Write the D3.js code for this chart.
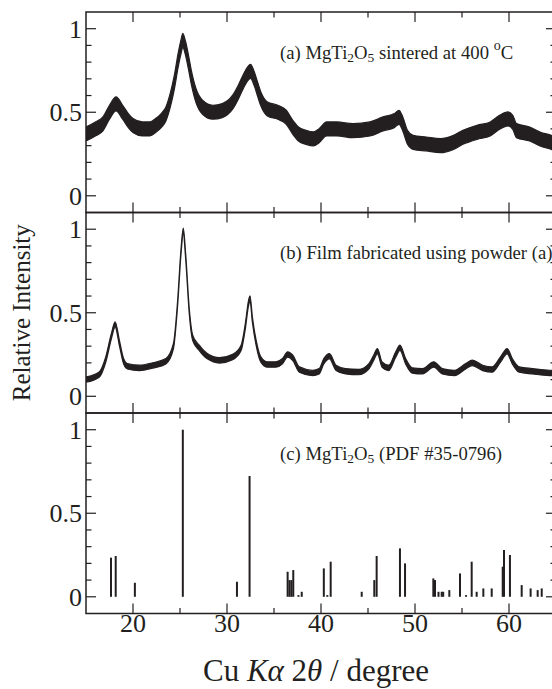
<!DOCTYPE html>
<html>
<head>
<meta charset="utf-8">
<script src="https://cdn.jsdelivr.net/npm/d3@7"></script>
<style>
  body { margin: 0; background: #fff; }
  svg { display: block; font-family: "Liberation Serif", "Times New Roman", serif; }
</style>
</head>
<body>
<svg id="chart" width="552" height="689"></svg>
<script>
// x range of all three panels (2 theta, degree)
const xDomain = [15, 65];
const yDomain = [-0.1, 1.1];
const xMajorTicks = [20, 30, 40, 50, 60];
const xMinorTicks = [25, 35, 45, 55];
const yMajorTicks = [0, 0.5, 1];
const yMinorTicks = [0.1, 0.2, 0.3, 0.4, 0.6, 0.7, 0.8, 0.9];
const yTickLabels = ['0', '0.5', '1'];

// (a) powder sintered at 400 C (centre of the noisy trace)
const sinteredTheta = [15.0, 16.0, 16.8, 17.5, 18.2, 18.9, 19.5, 20.0, 21.0, 21.8, 22.4, 23.0, 23.5, 24.0, 24.4, 24.8, 25.1, 25.3, 25.6, 25.9, 26.2, 26.7, 27.4, 28.5, 29.5, 30.6, 31.2, 31.7, 32.2, 32.5, 32.9, 33.3, 33.6, 34.3, 35.4, 36.3, 37.0, 37.6, 38.4, 39.2, 39.8, 40.6, 41.7, 43.4, 45.2, 46.6, 47.8, 48.3, 48.7, 49.2, 49.8, 51.2, 52.7, 54.1, 55.1, 56.6, 58.0, 59.0, 59.9, 60.4, 60.8, 62.2, 63.3, 64.5, 65.0];
const sinteredInt = [0.37, 0.40, 0.43, 0.50, 0.55, 0.50, 0.45, 0.42, 0.40, 0.40, 0.42, 0.45, 0.49, 0.58, 0.68, 0.81, 0.89, 0.93, 0.88, 0.80, 0.71, 0.60, 0.53, 0.50, 0.51, 0.56, 0.62, 0.68, 0.73, 0.745, 0.70, 0.63, 0.58, 0.52, 0.50, 0.47, 0.41, 0.37, 0.35, 0.34, 0.36, 0.40, 0.40, 0.39, 0.40, 0.43, 0.45, 0.47, 0.43, 0.35, 0.32, 0.31, 0.30, 0.32, 0.35, 0.38, 0.40, 0.44, 0.46, 0.44, 0.39, 0.37, 0.34, 0.32, 0.31];

// (b) film made from that powder
const filmTheta = [15.0, 16.4, 17.1, 17.7, 18.1, 18.55, 19.0, 19.4, 20.7, 22.1, 23.5, 24.3, 24.75, 25.1, 25.35, 25.6, 26.0, 26.35, 27.05, 27.9, 29.2, 30.6, 31.5, 31.95, 32.3, 32.45, 32.7, 33.1, 33.6, 34.3, 35.2, 35.9, 36.45, 37.0, 37.7, 39.1, 39.8, 40.3, 40.9, 41.6, 42.6, 44.0, 45.1, 45.6, 46.0, 46.5, 47.2, 47.95, 48.4, 49.0, 49.7, 50.8, 52.0, 52.9, 54.2, 55.4, 56.1, 57.2, 58.2, 59.1, 59.8, 60.35, 61.1, 62.5, 64.3, 65.0];
const filmInt = [0.10, 0.13, 0.22, 0.36, 0.43, 0.32, 0.21, 0.18, 0.17, 0.185, 0.21, 0.30, 0.56, 0.86, 0.99, 0.84, 0.50, 0.35, 0.29, 0.24, 0.215, 0.235, 0.29, 0.42, 0.56, 0.585, 0.46, 0.32, 0.22, 0.19, 0.19, 0.21, 0.25, 0.23, 0.16, 0.14, 0.15, 0.21, 0.24, 0.17, 0.15, 0.145, 0.18, 0.23, 0.27, 0.19, 0.17, 0.25, 0.29, 0.21, 0.155, 0.15, 0.19, 0.15, 0.14, 0.18, 0.20, 0.17, 0.16, 0.22, 0.27, 0.21, 0.16, 0.15, 0.14, 0.14];

// (c) MgTi2O5 reference pattern, PDF #35-0796
const refTheta = [17.66, 18.16, 20.2, 25.3, 31.06, 32.4, 36.45, 36.65, 36.85, 37.05, 37.6, 37.95, 40.3, 40.67, 41.03, 44.33, 45.67, 45.92, 48.4, 48.94, 51.95, 52.13, 52.5, 52.84, 53.0, 53.65, 54.79, 55.43, 56.03, 56.56, 57.27, 58.16, 59.33, 59.47, 60.1, 61.35, 62.3, 63.05, 63.48];
const refInt = [0.234, 0.244, 0.084, 1.0, 0.09, 0.723, 0.15, 0.10, 0.10, 0.16, 0.01, 0.03, 0.17, 0.01, 0.21, 0.03, 0.10, 0.244, 0.29, 0.20, 0.11, 0.10, 0.03, 0.03, 0.03, 0.04, 0.14, 0.01, 0.21, 0.03, 0.05, 0.05, 0.18, 0.28, 0.25, 0.07, 0.05, 0.04, 0.05];

const ink = '#231f20';
const plotLeft = 86, plotRight = 556, plotTop = 12, panelH = 200.5;
const svg = d3.select('#chart');

const x = d3.scaleLinear().domain(xDomain).range([plotLeft, plotRight]);

svg.append('clipPath').attr('id', 'plotClip')
  .append('rect').attr('x', plotLeft).attr('y', plotTop).attr('width', plotRight - plotLeft).attr('height', panelH * 3);

const panels = [
  { kind: 'trace', theta: sinteredTheta, val: sinteredInt, noise: 0.042,
    text: [['(a) MgTi'], ['2', 'sub'], ['O'], ['5', 'sub'], [' sintered at 400  '], ['o', 'sup'], ['C']], textY: 59 },
  { kind: 'trace', theta: filmTheta, val: filmInt, noise: 0.016,
    text: [['(b) Film fabricated using powder (a)']], textY: 259 },
  { kind: 'sticks', theta: refTheta, val: refInt,
    text: [['(c) MgTi'], ['2', 'sub'], ['O'], ['5', 'sub'], [' (PDF #35-0796)']], textY: 460 }
];

panels.forEach((p, i) => {
  const y0 = plotTop + panelH * i;
  const y = d3.scaleLinear().domain(yDomain).range([y0 + panelH, y0]);
  const g = svg.append('g');

  // data
  const pts = p.theta.map((t, k) => [t, p.val[k]]);
  if (p.kind === 'trace') {
    const area = d3.area()
      .x(d => x(d[0]))
      .y0(d => y(d[1] - p.noise))
      .y1(d => y(d[1] + p.noise))
      .curve(d3.curveMonotoneX);
    g.append('path')
      .datum(pts)
      .attr('clip-path', 'url(#plotClip)')
      .attr('fill', ink)
      .attr('stroke', ink)
      .attr('stroke-width', 1.2)
      .attr('stroke-linejoin', 'round')
      .attr('d', area);
  } else {
    g.selectAll('.stick')
      .data(pts)
      .enter().append('line')
      .attr('class', 'stick')
      .attr('x1', d => x(d[0]))
      .attr('x2', d => x(d[0]))
      .attr('y1', y(0))
      .attr('y2', d => y(d[1]))
      .attr('stroke', ink)
      .attr('stroke-width', 2);
  }

  // frame
  g.append('rect')
    .attr('x', plotLeft).attr('y', y0)
    .attr('width', plotRight - plotLeft).attr('height', panelH)
    .attr('fill', 'none').attr('stroke', ink).attr('stroke-width', 1.5);

  // y ticks, inward on both sides
  const yTicks = yMajorTicks.map(v => [v, 10]).concat(yMinorTicks.map(v => [v, 5.5]));
  g.selectAll('.ytl').data(yTicks).enter().append('line')
    .attr('x1', plotLeft).attr('x2', d => plotLeft + d[1])
    .attr('y1', d => y(d[0])).attr('y2', d => y(d[0]))
    .attr('stroke', ink).attr('stroke-width', 1.2);
  g.selectAll('.ytr').data(yTicks).enter().append('line')
    .attr('x1', plotRight).attr('x2', d => plotRight - d[1])
    .attr('y1', d => y(d[0])).attr('y2', d => y(d[0]))
    .attr('stroke', ink).attr('stroke-width', 1.2);

  g.selectAll('.ylab').data(yMajorTicks).enter().append('text')
    .attr('x', plotLeft - 4)
    .attr('y', d => y(d))
    .attr('dy', '0.34em')
    .attr('text-anchor', 'end')
    .attr('font-size', 26)
    .attr('fill', ink)
    .text((d, k) => yTickLabels[k]);

  // x ticks, inward at top and bottom of every panel
  const xTicks = xMajorTicks.map(v => [v, 10]).concat(xMinorTicks.map(v => [v, 5.5]));
  [[y0, 1], [y0 + panelH, -1]].forEach(([yy, dir]) => {
    g.selectAll(null).data(xTicks).enter().append('line')
      .attr('x1', d => x(d[0])).attr('x2', d => x(d[0]))
      .attr('y1', yy).attr('y2', d => yy + dir * d[1])
      .attr('stroke', ink).attr('stroke-width', 1.2);
  });

  // panel caption
  const t = g.append('text')
    .attr('x', 280).attr('y', p.textY)
    .attr('font-size', 18.7)
    .attr('fill', ink);
  p.text.forEach(([s, mode]) => {
    const span = t.append('tspan').text(s);
    if (mode === 'sub') span.attr('font-size', 13.5).attr('baseline-shift', '-22%');
    if (mode === 'sup') span.attr('font-size', 14).attr('baseline-shift', '65%');
  });
});

// bottom axis labels
svg.selectAll('.xlab').data(xMajorTicks).enter().append('text')
  .attr('x', d => x(d))
  .attr('y', 632)
  .attr('text-anchor', 'middle')
  .attr('font-size', 26)
  .attr('fill', ink)
  .text(d => d);

const xt = svg.append('text')
  .attr('x', 316)
  .attr('y', 681)
  .attr('text-anchor', 'middle')
  .attr('font-size', 31)
  .attr('fill', ink);
xt.append('tspan').text('Cu ');
xt.append('tspan').attr('font-style', 'italic').text('Kα');
xt.append('tspan').text(' 2');
xt.append('tspan').attr('font-style', 'italic').text('θ');
xt.append('tspan').text(' / degree');

svg.append('text')
  .attr('transform', `translate(30, ${plotTop + panelH * 1.5}) rotate(-90)`)
  .attr('text-anchor', 'middle')
  .attr('font-size', 25)
  .attr('fill', ink)
  .text('Relative Intensity');
</script>
</body>
</html>
